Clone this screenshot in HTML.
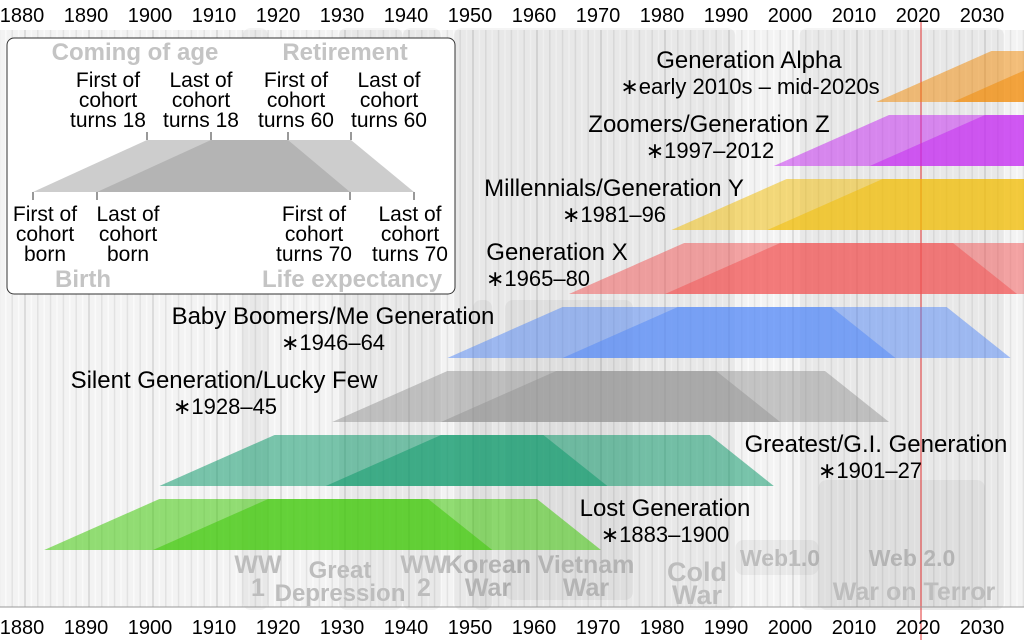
<!DOCTYPE html>
<html><head><meta charset="utf-8">
<style>
html,body{margin:0;padding:0;background:#fff;}
svg{display:block;font-family:"Liberation Sans",sans-serif;}
</style></head>
<body>
<svg id="chart" width="1024" height="640" viewBox="0 0 1024 640" xmlns="http://www.w3.org/2000/svg">
  <rect x="0" y="30" width="1024" height="577" fill="#f3f3f3"/>
  <g id="grid"></g>
  <g id="events"></g>
  <line x1="921" y1="22" x2="921" y2="640" stroke="#e03030" stroke-width="1"/>
  <line x1="0" y1="607" x2="1024" y2="607" stroke="#999" stroke-width="1"/>
  <g id="axisTop" font-size="20" fill="#000" text-anchor="middle"></g>
  <g id="axisBottom" font-size="20" fill="#000" text-anchor="middle"></g>
  <g id="gens"></g>
  <g id="genLabels" font-size="24" fill="#000" text-anchor="middle"></g>

  <g>
    <rect x="7" y="38" width="448" height="256" rx="7" fill="#fff" stroke="#333" stroke-width="1"/>
    <g font-weight="bold" font-size="24" fill="#c4c4c4" text-anchor="middle">
      <text x="135" y="60">Coming of age</text>
      <text x="345" y="60">Retirement</text>
      <text x="83" y="287">Birth</text>
      <text x="352" y="287">Life expectancy</text>
    </g>
    <polygon points="33,192 147,140 288,140 350,192" fill="#9b9b9b" fill-opacity="0.5"/>
    <polygon points="97,192 211,140 351,140 414,192" fill="#9b9b9b" fill-opacity="0.5"/>
    <g stroke="#333" stroke-width="1">
      <line x1="147" y1="132" x2="147" y2="140"/><line x1="211" y1="132" x2="211" y2="140"/>
      <line x1="288" y1="132" x2="288" y2="140"/><line x1="351" y1="132" x2="351" y2="140"/>
      <line x1="33" y1="192" x2="33" y2="200"/><line x1="97" y1="192" x2="97" y2="200"/>
      <line x1="350" y1="192" x2="350" y2="200"/><line x1="414" y1="192" x2="414" y2="200"/>
    </g>
    <g font-size="21" fill="#000" text-anchor="middle">
      <text x="108" y="87">First of<tspan x="108" dy="20">cohort</tspan><tspan x="108" dy="20">turns 18</tspan></text>
      <text x="201" y="87">Last of<tspan x="201" dy="20">cohort</tspan><tspan x="201" dy="20">turns 18</tspan></text>
      <text x="296" y="87">First of<tspan x="296" dy="20">cohort</tspan><tspan x="296" dy="20">turns 60</tspan></text>
      <text x="389" y="87">Last of<tspan x="389" dy="20">cohort</tspan><tspan x="389" dy="20">turns 60</tspan></text>
      <text x="45" y="221">First of<tspan x="45" dy="20">cohort</tspan><tspan x="45" dy="20">born</tspan></text>
      <text x="128" y="221">Last of<tspan x="128" dy="20">cohort</tspan><tspan x="128" dy="20">born</tspan></text>
      <text x="314" y="221">First of<tspan x="314" dy="20">cohort</tspan><tspan x="314" dy="20">turns 70</tspan></text>
      <text x="410" y="221">Last of<tspan x="410" dy="20">cohort</tspan><tspan x="410" dy="20">turns 70</tspan></text>
    </g>
  </g>
</svg>
<script>
const NS="http://www.w3.org/2000/svg";
const tickYears=[1880,1890,1900,1910,1920,1930,1940,1950,1960,1970,1980,1990,2000,2010,2020,2030];
const genNames=["Lost Generation","Greatest/G.I. Generation","Silent Generation/Lucky Few","Baby Boomers/Me Generation","Generation X","Millennials/Generation Y","Zoomers/Generation Z","Generation Alpha"];
const genRanges=["∗1883–1900","∗1901–27","∗1928–45","∗1946–64","∗1965–80","∗1981–96","∗1997–2012","∗early 2010s – mid-2020s"];
const genStart=[1883,1901,1928,1946,1965,1981,1997,2013];
const genEnd=[1900,1927,1945,1964,1980,1996,2012,2025];
const genColors=["#40c809","#129b6d","#949494","#5187f8","#f15151","#f1bc00","#c323f1","#f18700"];
const genAlpha=[0.55,0.55,0.5,0.5,0.5,0.5,0.5,0.5];
const eventNames=[["WW","1"],["Great","Depression"],["WW","2"],["Korean","War"],["Vietnam","War"],["Cold","War"],["Web1.0"],["Web 2.0"],["War on Terror"]];
const eventStart=[1914,1929,1939,1950,1955,1947,1991,2004,2001];
const eventEnd=[1918,1939,1945,1953,1975,1991,2004,2030,2033];
const COMING=18, RETIRE=60, LIFE=70;

const x=y=>153+(y-1900)*6.4;
const rowTop=i=>499-64*i;
const ROWH=51;
function mk(tag,attrs,parent){const e=document.createElementNS(NS,tag);for(const k in attrs)e.setAttribute(k,attrs[k]);parent.appendChild(e);return e;}

const grid=document.getElementById('grid');
for(let yr=1876;yr<=2036;yr++){
  const l=mk('line',{x1:x(yr),x2:x(yr),y1:30,y2:607,stroke:yr%10===0?'#c4c4c4':(yr%2? '#fafafa':'#e2e2e2'),'stroke-width':yr%10===0?1:1.5},grid);
  
  
}
const at=document.getElementById('axisTop'),ab=document.getElementById('axisBottom');
tickYears.forEach(yr=>{
  const t1=mk('text',{x:x(yr)-3,y:22},at);t1.textContent=yr;
  
  
  const t2=mk('text',{x:x(yr)-3,y:634},ab);t2.textContent=yr;
  
  
});
const ev=document.getElementById('events');
const evTop=[28,28,28,300,300,28,540,480,28];
const evBottom=[610,610,610,610,600,610,575,610,610];
const evLabelX=[258,340,424,488,586,697,780,912,914];
const evLabelY=[573,578,573,573,573,581,566,566,600];
const evSize=[25,24,25,25,25,27,23,23,25];
eventNames.forEach((nm,i)=>{
  const r=mk('rect',{x:x(eventStart[i]),y:evTop[i],width:x(eventEnd[i])-x(eventStart[i]),height:evBottom[i]-evTop[i],rx:8,fill:'#000','fill-opacity':0.045},ev);
  
  
  const cx=evLabelX[i];
  const t=mk('text',{x:cx,y:evLabelY[i],'font-size':evSize[i],'font-weight':'bold',fill:'#bdbdbd','text-anchor':'middle'},ev);
  
  
  nm.forEach((s,j)=>{const ts=mk('tspan',{x:cx,dy:j?23:0},t);ts.textContent=s;});
});
const g=document.getElementById('gens');
genStart.forEach((s,i)=>{
  const top=rowTop(i),bot=top+ROWH;
  [s,genEnd[i]].forEach(b=>{
    const p=mk('polygon',{points:`${x(b)},${bot} ${x(b+COMING)},${top} ${x(b+RETIRE)},${top} ${x(b+LIFE)},${bot}`,fill:genColors[i],'fill-opacity':genAlpha[i]},g);
    
    
  });
});
const gl=document.getElementById('genLabels');
const labX=[665,876,224,333,557,614,709,749];
const rangeX=[665,870,225,333,538,614,710,750];
genNames.forEach((n,i)=>{
  const top=rowTop(i);
  const t=mk('text',{x:labX[i],y:top+17},gl);t.textContent=n;
  
  
  const r=mk('text',{x:rangeX[i],y:top+43,'font-size':22},gl);r.textContent=genRanges[i];
  
  
});
</script>
</body></html>
